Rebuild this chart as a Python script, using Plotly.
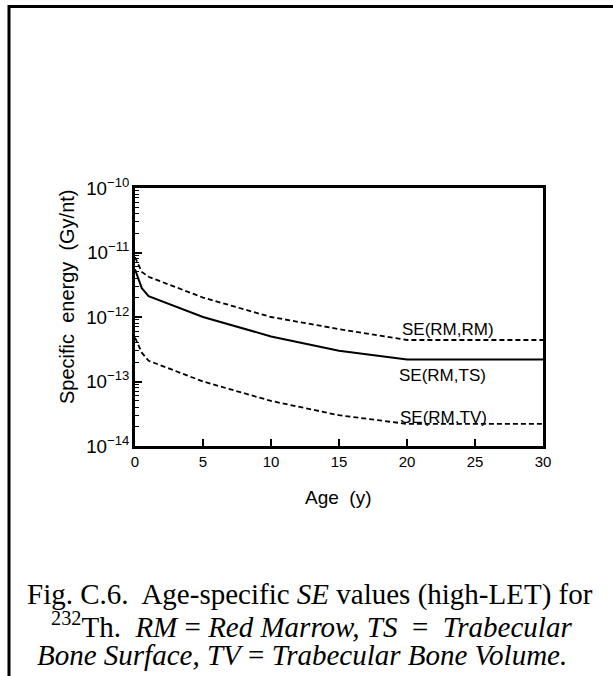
import math
import plotly.graph_objects as go

age = [0, 0.5, 1, 5, 10, 15, 20, 30]
se_rm_rm = [8.5e-12, 5.0e-12, 4.2e-12, 2.0e-12, 1.0e-12, 6.5e-13, 4.4e-13, 4.4e-13]
se_rm_ts = [5.5e-12, 2.8e-12, 2.1e-12, 1.0e-12, 5.0e-13, 3.0e-13, 2.2e-13, 2.2e-13]
se_rm_tv = [4.8e-13, 2.8e-13, 2.1e-13, 1.0e-13, 5.0e-14, 3.0e-14, 2.2e-14, 2.2e-14]

labels = ["SE(RM,RM)", "SE(RM,TS)", "SE(RM,TV)"]
label_x = [23.0, 22.6, 22.65]
label_y = [6.3e-13, 1.22e-13, 2.8e-14]

# plot area in page pixels
L, R, T, B = 135, 543, 188, 446
W, H = R - L, B - T
def px(x):
    return (x - L) / W
def py(y):
    return (B - y) / H

fig = go.Figure()
fig.add_trace(go.Scatter(x=age, y=se_rm_rm, mode="lines",
                         line=dict(color="black", width=1.8, dash="5px,3px")))
fig.add_trace(go.Scatter(x=age, y=se_rm_ts, mode="lines",
                         line=dict(color="black", width=2)))
fig.add_trace(go.Scatter(x=age, y=se_rm_tv, mode="lines",
                         line=dict(color="black", width=1.8, dash="5px,3px")))

for t, xx, yy in zip(labels, label_x, label_y):
    fig.add_annotation(x=xx, y=math.log10(yy), yref="y", xref="x", text=t, showarrow=False,
                       font=dict(family="Liberation Sans", size=17, color="black"))

axis_font = dict(family="Liberation Sans", size=15, color="black")
fig.update_xaxes(range=[0, 30], dtick=5, tick0=0, ticks="inside", ticklen=7,
                 tickwidth=2, tickcolor="black", showline=True, linewidth=2.5,
                 linecolor="black", mirror=True, showgrid=False, zeroline=False,
                 tickfont=axis_font)
fig.update_yaxes(type="log", range=[-14, -10], dtick=1, exponentformat="power",
                 ticks="inside", ticklen=7, tickwidth=2, tickcolor="black",
                 showline=True, linewidth=2.5, linecolor="black", mirror=True,
                 showgrid=False, zeroline=False, tickfont=axis_font,
                 minor=dict(ticks="inside", ticklen=4, tickwidth=1, tickcolor="black",
                            dtick="D1", showgrid=False))

title_font = dict(family="Liberation Sans", size=19, color="black")
fig.add_annotation(xref="paper", yref="paper", x=px(338), y=py(497),
                   text="Age\u00a0\u00a0(y)", showarrow=False, font=title_font,
                   xanchor="center", yanchor="middle")
fig.add_annotation(xref="paper", yref="paper", x=px(67), y=py(297),
                   text="Specific\u00a0\u00a0energy\u00a0\u00a0(Gy/nt)", showarrow=False,
                   font=dict(family="Liberation Sans", size=20, color="black"),
                   textangle=-90, xanchor="center", yanchor="middle")

cap_font = dict(family="Liberation Serif", size=29, color="black")
fig.add_annotation(xref="paper", yref="paper", x=px(310), y=py(594),
                   text="Fig. C.6.  Age-specific <i>SE</i> values (high-LET) for",
                   showarrow=False, font=cap_font, xanchor="center", yanchor="middle")
fig.add_annotation(xref="paper", yref="paper", x=px(311), y=py(625),
                   text="<sup>232</sup>Th.  <i>RM</i> = <i>Red Marrow, TS</i>  =  <i>Trabecular</i>",
                   showarrow=False, font=cap_font, xanchor="center", yanchor="middle")
fig.add_annotation(xref="paper", yref="paper", x=px(302), y=py(655),
                   text="<i>Bone Surface, TV</i> = <i>Trabecular Bone Volume.</i>",
                   showarrow=False, font=cap_font, xanchor="center", yanchor="middle")

# page frame (top and left rules)
fig.add_shape(type="line", xref="paper", yref="paper",
              x0=px(8), x1=px(620), y0=py(6.5), y1=py(6.5),
              line=dict(color="black", width=3))
fig.add_shape(type="line", xref="paper", yref="paper",
              x0=px(9), x1=px(9), y0=py(5), y1=py(690),
              line=dict(color="black", width=3))

fig.update_layout(width=613, height=676, showlegend=False,
                  margin=dict(l=L, r=613 - R, t=T, b=676 - B),
                  paper_bgcolor="white", plot_bgcolor="white")
fig.write_html("out.html", config={"displayModeBar": False},
               post_script="document.body.style.margin='0px';")
